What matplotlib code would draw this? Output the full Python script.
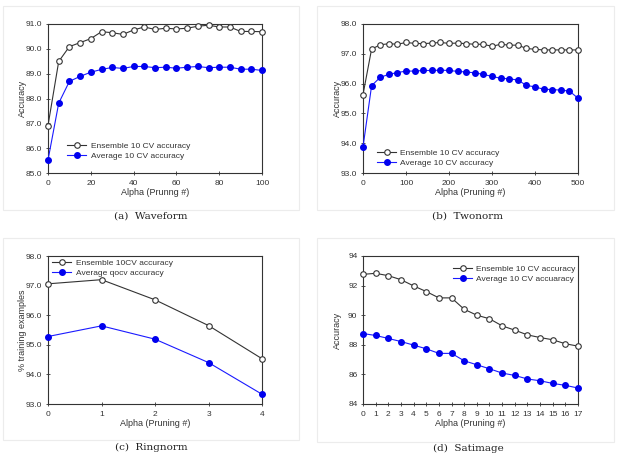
import matplotlib.pyplot as plt
from matplotlib.patches import Rectangle

plt.rcParams['font.family'] = ['Liberation Sans', 'DejaVu Sans']

# (a) Waveform
wave_x = list(range(0, 101, 5))
wave_ens = [86.91, 89.49, 90.09, 90.25, 90.41, 90.69, 90.65, 90.58, 90.76, 90.88, 90.78,
            90.83, 90.80, 90.83, 90.91, 90.95, 90.88, 90.88, 90.70, 90.70, 90.69]
wave_avg = [85.52, 87.81, 88.69, 88.89, 89.06, 89.17, 89.25, 89.21, 89.29, 89.29, 89.24,
            89.26, 89.22, 89.26, 89.29, 89.24, 89.26, 89.26, 89.18, 89.18, 89.13]

# (b) Twonorm
two_x = list(range(0, 501, 20))
two_ens = [95.63, 97.16, 97.30, 97.34, 97.32, 97.38, 97.35, 97.34, 97.36, 97.38, 97.35,
           97.36, 97.34, 97.32, 97.32, 97.25, 97.32, 97.29, 97.29, 97.18, 97.15, 97.13,
           97.13, 97.13, 97.13, 97.13]
two_avg = [93.87, 95.93, 96.21, 96.31, 96.37, 96.42, 96.42, 96.44, 96.44, 96.45, 96.44,
           96.41, 96.39, 96.36, 96.31, 96.24, 96.18, 96.16, 96.12, 95.94, 95.89, 95.81,
           95.80, 95.78, 95.75, 95.51]

# (c) Ringnorm
ring_x = [0, 1, 2, 3, 4]
ring_ens = [97.06, 97.20, 96.52, 95.65, 94.53]
ring_avg = [95.28, 95.64, 95.19, 94.40, 93.33]

# (d) Satimage
sat_x = list(range(18))
sat_ens = [92.76, 92.83, 92.67, 92.40, 91.98, 91.60, 91.17, 91.17, 90.40, 90.00, 89.76,
           89.28, 88.99, 88.67, 88.49, 88.34, 88.07, 87.91]
sat_avg = [88.76, 88.63, 88.43, 88.22, 87.98, 87.73, 87.42, 87.42, 86.92, 86.65, 86.38,
           86.09, 85.93, 85.69, 85.57, 85.39, 85.26, 85.08]

W, H = 618, 454
fig = plt.figure(figsize=(W / 100, H / 100), dpi=100)


def px_axes(l, t, r, b):
    return fig.add_axes([l / W, (H - b) / H, (r - l) / W, (b - t) / H])


def frame(l, t, r, b):
    fig.patches.append(Rectangle((l / W, (H - b) / H), (r - l) / W, (b - t) / H,
                                 transform=fig.transFigure, fill=False,
                                 edgecolor='#ececec', lw=0.8))


def panel(ax, x, ens, avg, lab_ens, lab_avg, xticks, yticks, yfmt, xlabel, ylabel,
          leg_loc, leg_anchor):
    ax.plot(x, ens, '-o', color='#333333', mfc='white', mec='#333333', ms=4, lw=0.8,
            mew=0.8, clip_on=False, zorder=3, label=lab_ens)
    ax.plot(x, avg, '-o', color='#1a1aff', mfc='#0000ee', mec='#0000ee', ms=4, lw=0.8,
            clip_on=False, zorder=3, label=lab_avg)
    ax.set_xlim(xticks[0], xticks[-1])
    ax.set_ylim(yticks[0], yticks[-1])
    ax.set_xticks(xticks)
    ax.set_yticks(yticks)
    ax.set_yticklabels([yfmt.format(v) for v in yticks])
    ax.tick_params(direction='inout', length=3, width=0.6, labelsize=6,
                   colors='#333333', pad=2.5)
    ax.tick_params(axis='x', pad=3.5)
    for s in ax.spines.values():
        s.set_color('#333333')
        s.set_linewidth(0.8)
    ax.set_xlabel(xlabel, fontsize=6.5, color='#333333')
    ax.set_ylabel(ylabel, fontsize=6.5, color='#333333')
    ax.xaxis.set_label_coords(0.5, -0.10)
    ax.yaxis.set_label_coords(-0.10, 0.5)
    ax.legend(loc=leg_loc, bbox_to_anchor=leg_anchor, frameon=False, fontsize=6,
              handlelength=2.3, handletextpad=0.5, labelspacing=0.25, borderpad=0,
              borderaxespad=0, labelcolor='#333333')


# frames around sub-figures
frame(3, 6, 299, 210)
frame(317, 6, 614, 210)
frame(3, 238, 299, 440)
frame(317, 238, 614, 442)

ax = px_axes(48, 24, 262, 173)
panel(ax, wave_x, wave_ens, wave_avg, 'Ensemble 10 CV accuracy', 'Average 10 CV accuracy',
      list(range(0, 101, 20)), [85, 86, 87, 88, 89, 90, 91], '{:.1f}',
      'Alpha (Prunng #)', 'Accuracy', 'lower left', (0.09, 0.09))

ax = px_axes(363, 24, 578, 173)
panel(ax, two_x, two_ens, two_avg, 'Ensemble 10 CV accuracy', 'Average 10 CV accuracy',
      list(range(0, 501, 100)), [93, 94, 95, 96, 97, 98], '{:.1f}',
      'Alpha (Pruning #)', 'Accuracy', 'lower left', (0.065, 0.04))

ax = px_axes(48, 256, 262, 404)
panel(ax, ring_x, ring_ens, ring_avg, 'Ensemble 10CV accuracy', 'Average qocv accuracy',
      [0, 1, 2, 3, 4], [93, 94, 95, 96, 97, 98], '{:.1f}',
      'Alpha (Pruning #)', '% training examples', 'upper left', (0.02, 0.98))

ax = px_axes(363, 256, 578, 404)
panel(ax, sat_x, sat_ens, sat_avg, 'Ensemble 10 CV accuracy', 'Average 10 CV accuaracy',
      sat_x, [84, 86, 88, 90, 92, 94], '{:.0f}',
      'Alpha (Pruning #)', 'Accuracy', 'upper right', (0.99, 0.94))

# captions
cap = dict(fontsize=7.5, family='DejaVu Serif', ha='center', va='center', color='#222222')
fig.text(151 / W, 1 - 216 / H, '(a)  Waveform', **cap)
fig.text(467 / W, 1 - 216 / H, '(b)  Twonorm', **cap)
fig.text(151 / W, 1 - 447 / H, '(c)  Ringnorm', **cap)
fig.text(468 / W, 1 - 448 / H, '(d)  Satimage', **cap)

fig.savefig('out.png', dpi=100)
